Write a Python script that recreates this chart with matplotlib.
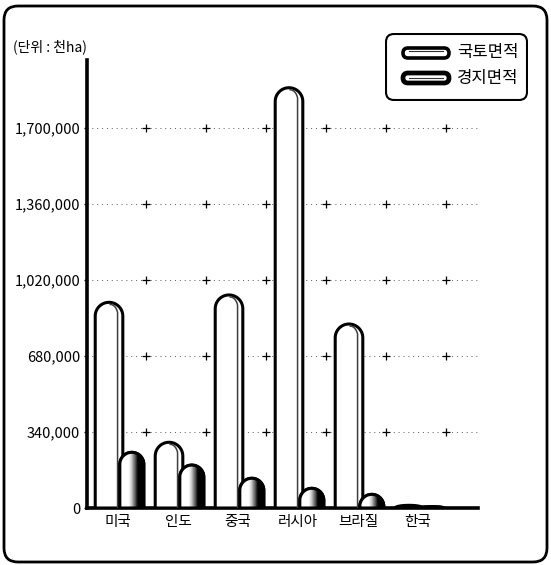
import numpy as np
import matplotlib
matplotlib.use("Agg")
import matplotlib.pyplot as plt
from matplotlib.patches import FancyBboxPatch, PathPatch
from matplotlib.path import Path

plt.rcParams['font.family'] = ['Noto Sans CJK KR', 'DejaVu Sans']

# data (thousand ha)
countries = ['미국', '인도', '중국', '러시아', '브라질', '한국']
land_area = [920000, 294000, 953000, 1880000, 823000, 12000]
farm_area = [249000, 192000, 133000, 88000, 61000, 6000]
yticks = [0, 340000, 680000, 1020000, 1360000, 1700000]
unit_label = '(단위 : 천ha)'
legend_labels = ['국토면적', '경지면적']

W, H = 551, 565
fig = plt.figure(figsize=(W / 100, H / 100), dpi=100)

# outer rounded frame
bg = fig.add_axes([0, 0, 1, 1], zorder=0)
bg.set_xlim(0, W)
bg.set_ylim(H, 0)
bg.axis('off')
bg.add_patch(FancyBboxPatch((4, 6), 543, 556, boxstyle='round,pad=0,rounding_size=14',
                            fill=False, lw=2, ec='black'))
bg.text(13, 47, unit_label, fontsize=10, ha='left', va='center')

# main axes
ax_l, ax_r, ax_t, ax_b = 87, 478, 60, 508
ax = fig.add_axes([ax_l / W, 1 - ax_b / H, (ax_r - ax_l) / W, (ax_b - ax_t) / H], zorder=1)
ax.patch.set_alpha(0)
xlim = (-0.517, 6.0)
ylim = (0, 2004000)
ax.set_xlim(*xlim)
ax.set_ylim(*ylim)
px_x = (ax_r - ax_l) / (xlim[1] - xlim[0])
px_y = (ax_b - ax_t) / (ylim[1] - ylim[0])


def capsule(xc, w, h):
    rx = w / 2
    ry = rx * px_x / px_y
    if h < ry:
        ry = h
    t = np.linspace(np.pi, 0, 40)
    xs = np.concatenate([[xc - rx], xc + rx * np.cos(t), [xc + rx]])
    ys = np.concatenate([[0], h - ry + ry * np.sin(t), [0]])
    verts = np.column_stack([xs, ys])
    verts = np.vstack([verts, verts[:1]])
    codes = [Path.MOVETO] + [Path.LINETO] * (len(verts) - 2) + [Path.CLOSEPOLY]
    return Path(verts, codes), ry


# grid: dotted lines with plus marks
for yv in yticks[1:]:
    ax.axhline(yv, color='0.35', lw=0.7, ls=(0, (1, 4)), zorder=1)
    ax.plot(np.arange(len(countries)) + 0.46, [yv] * len(countries), '+',
            color='black', ms=6, mew=0.9, zorder=1)

nat_off, nat_w = -0.15, 0.46
far_off, far_w = 0.23, 0.40
x = np.arange(len(countries))

for i in range(len(countries)):
    # national area bar
    xc = x[i] + nat_off
    path, ry = capsule(xc, nat_w, land_area[i])
    ax.add_patch(PathPatch(path, fc='white', ec='black', lw=2.2, zorder=3))
    if land_area[i] > 2 * ry:
        t = np.linspace(np.pi / 2, np.pi * 0.1, 15)
        hx = xc + nat_w * 0.28 * np.cos(t) + 0.02
        hy = land_area[i] - ry + ry * 0.85 * np.sin(t)
        ax.plot(np.append(hx, hx[-1]), np.append(hy, 0), color='0.25', lw=1.1, zorder=4)

    # farmland bar
    xc = x[i] + far_off
    path, ry = capsule(xc, far_w, farm_area[i])
    patch = PathPatch(path, fc='white', ec='black', lw=2.2, zorder=5)
    ax.add_patch(patch)
    grad = np.linspace(0, 1, 64)
    grad = np.clip((grad - 0.35) / 0.4, 0, 1)[None, :]
    im = ax.imshow(grad, cmap='Greys', vmin=0, vmax=1, aspect='auto', zorder=5.5,
                   extent=(xc - far_w / 2, xc + far_w / 2, 0, farm_area[i]),
                   interpolation='bilinear')
    im.set_clip_path(patch)
    ax.add_patch(PathPatch(path, fc='none', ec='black', lw=2.2, zorder=6))

ax.set_xlim(*xlim)
ax.set_ylim(*ylim)

ax.set_yticks(yticks)
ax.set_yticklabels([f'{v:,}' for v in yticks], fontsize=10.5)
ax.set_xticks(x)
ax.set_xticklabels(countries, fontsize=10.5)
ax.tick_params(axis='x', length=0, pad=5)
ax.tick_params(axis='y', length=2, width=1, pad=3)
for s in ['top', 'right']:
    ax.spines[s].set_visible(False)
for s in ['left', 'bottom']:
    ax.spines[s].set_linewidth(2.6)

# legend box
lx, ly, lw_, lh = 385, 33, 143, 68
lax = fig.add_axes([lx / W, 1 - (ly + lh) / H, lw_ / W, lh / H], zorder=2)
lax.set_xlim(0, lw_)
lax.set_ylim(lh, 0)
lax.axis('off')
lax.add_patch(FancyBboxPatch((1, 1), lw_ - 2, lh - 2, boxstyle='round,pad=0,rounding_size=8',
                             fc='white', ec='black', lw=1.5))
for k, (yc, elw) in enumerate([(20, 2.6), (45, 3.4)]):
    lax.add_patch(FancyBboxPatch((18, yc - 5), 46, 10, boxstyle='round,pad=0,rounding_size=5',
                                 fc='white', ec='black', lw=elw))
    lax.plot([24, 58], [yc - 2 + 1.5 * k, yc - 2 + 1.5 * k], color='0.2', lw=0.8)
    lax.text(72, yc, legend_labels[k], fontsize=12, va='center', ha='left')

fig.savefig('out.png', dpi=100)
